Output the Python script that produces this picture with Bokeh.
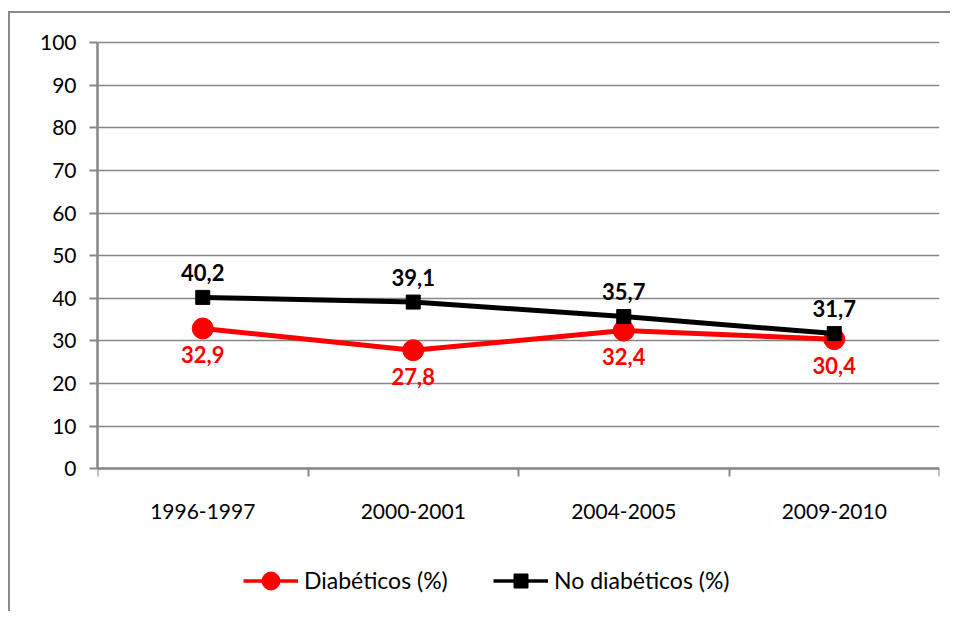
from bokeh.plotting import figure
from bokeh.models import Range1d, FixedTicker, Legend, LegendItem
from bokeh.core.properties import value
from bokeh.embed import file_html
from bokeh.resources import INLINE

categories = ["1996-1997", "2000-2001", "2004-2005", "2009-2010"]
diabeticos = [32.9, 27.8, 32.4, 30.4]
no_diabeticos = [40.2, 39.1, 35.7, 31.7]
y_ticks = [0, 10, 20, 30, 40, 50, 60, 70, 80, 90, 100]
series_names = ["Diabéticos (%)", "No diabéticos (%)"]

def fmt(v):
    return f"{v:.1f}".replace(".", ",")

diab_labels = [fmt(v) for v in diabeticos]
nodiab_labels = [fmt(v) for v in no_diabeticos]

xpos = [i + 0.5 for i in range(len(categories))]
bounds = list(range(len(categories) + 1))

RED = "#FF0000"
BLACK = "#000000"
GRID = "#878787"
FONT = "Lato"

# y range extends below 0 to leave room (inside the frame) for the legend
p = figure(width=942, height=600,
           x_range=Range1d(0, len(categories)), y_range=Range1d(-33.3, 100.5),
           output_backend="svg", toolbar_location=None,
           min_border_left=87, min_border_right=13,
           min_border_top=27, min_border_bottom=3)
p.margin = (11, 0, 0, 8)
p.styles = {"border-top": "2px solid #8a8a8a", "border-left": "2px solid #8a8a8a"}
p.outline_line_color = None
p.background_fill_color = "white"
p.border_fill_color = "white"

# grid
p.xgrid.visible = False
p.ygrid.ticker = FixedTicker(ticks=y_ticks)
p.ygrid.grid_line_color = GRID
p.ygrid.grid_line_width = 1.6

# x axis (pinned at y = 0)
xa = p.xaxis[0]
xa.fixed_location = 0
xa.ticker = FixedTicker(ticks=xpos, minor_ticks=bounds)
xa.major_label_overrides = {x: c for x, c in zip(xpos, categories)}
xa.major_tick_line_color = None
xa.major_tick_out = 0
xa.major_tick_in = 0
xa.minor_tick_line_color = GRID
xa.minor_tick_line_width = 2
xa.minor_tick_out = 8
xa.minor_tick_in = 0
xa.axis_line_color = GRID
xa.axis_line_width = 2.5
xa.major_label_standoff = 27
xa.major_label_text_font = FONT
xa.major_label_text_font_size = "21px"
xa.major_label_text_color = BLACK

# y axis
ya = p.yaxis[0]
ya.ticker = FixedTicker(ticks=y_ticks)
ya.bounds = (0, 100)
ya.major_tick_line_color = GRID
ya.major_tick_line_width = 2
ya.major_tick_out = 8
ya.major_tick_in = 0
ya.minor_tick_line_color = None
ya.axis_line_color = GRID
ya.axis_line_width = 2.5
ya.major_label_standoff = 13
ya.major_label_text_font = FONT
ya.major_label_text_font_size = "21px"
ya.major_label_text_color = BLACK

# series
p.line(xpos, diabeticos, line_color=RED, line_width=5)
p.scatter(xpos, diabeticos, marker="circle", size=21, fill_color=RED, line_color=RED)
p.line(xpos, no_diabeticos, line_color=BLACK, line_width=5)
p.scatter(xpos, no_diabeticos, marker="square", size=14, fill_color=BLACK, line_color=BLACK)

# data labels
p.text(xpos, diabeticos, text=diab_labels, text_font=value(FONT), text_font_style="bold",
       text_font_size="22px", text_color=RED, text_align="center", text_baseline="middle",
       y_offset=26)
p.text(xpos, no_diabeticos, text=nodiab_labels, text_font=value(FONT), text_font_style="bold",
       text_font_size="22px", text_color=BLACK, text_align="center", text_baseline="middle",
       y_offset=-25)

# legend proxies: same series, hidden in the plot, used only for the legend symbols
l1 = p.line(xpos, diabeticos, line_color=RED, line_width=3.5, visible=False)
m1 = p.scatter(xpos, diabeticos, marker="circle", fill_color=RED, line_color=RED, visible=False)
l2 = p.line(xpos, no_diabeticos, line_color=BLACK, line_width=3.5, visible=False)
m2 = p.scatter(xpos, no_diabeticos, marker="square", fill_color=BLACK, line_color=BLACK, visible=False)

def make_legend(label, rends, loc, gh):
    return Legend(items=[LegendItem(label=label, renderers=rends)], location=loc,
                  orientation="horizontal", glyph_width=55, glyph_height=gh,
                  label_standoff=6, label_text_font=FONT, label_text_font_size="23px",
                  label_text_color=BLACK, padding=0, margin=0,
                  border_line_color=None, background_fill_alpha=0)

p.add_layout(make_legend(series_names[0], [l1, m1], (146, 7.5), 45))
p.add_layout(make_legend(series_names[1], [l2, m2], (396, 12.5), 35))

open("out.html", "w").write(file_html(p, INLINE))
